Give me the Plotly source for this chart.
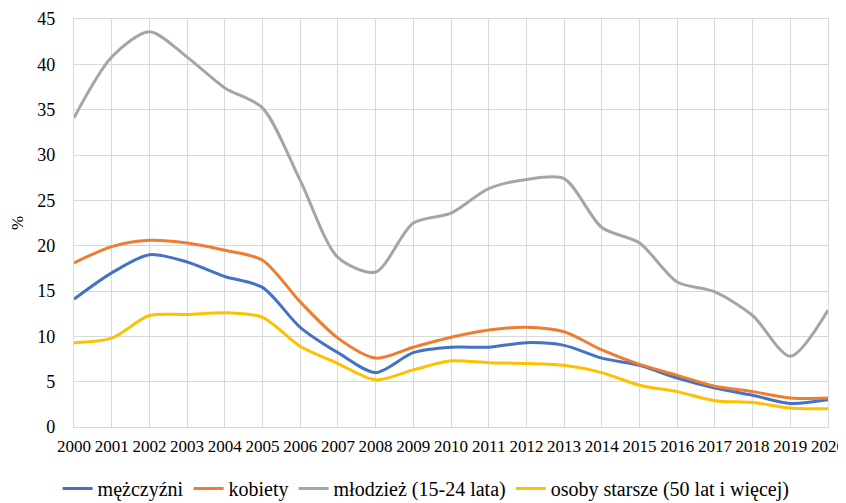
import plotly.graph_objects as go

years = list(range(2000, 2021))
mezczyzni = [14.1, 17.0, 19.0, 18.2, 16.6, 15.4, 11.0, 8.2, 6.0, 8.2, 8.8, 8.8, 9.3, 9.0, 7.6, 6.8, 5.4, 4.3, 3.5, 2.6, 3.0]
kobiety = [18.1, 19.9, 20.6, 20.3, 19.5, 18.4, 13.8, 9.8, 7.6, 8.8, 9.9, 10.7, 11.0, 10.5, 8.5, 6.9, 5.7, 4.5, 3.9, 3.2, 3.2]
mlodziez = [34.1, 40.8, 43.6, 40.8, 37.4, 35.2, 27.2, 18.7, 17.1, 22.5, 23.6, 26.3, 27.3, 27.4, 22.0, 20.3, 16.0, 14.9, 12.3, 7.8, 12.9]
starsi = [9.3, 9.8, 12.3, 12.4, 12.6, 12.1, 8.9, 7.0, 5.2, 6.3, 7.3, 7.1, 7.0, 6.8, 6.0, 4.6, 3.9, 2.9, 2.7, 2.1, 2.0]

series_names = ["mężczyźni", "kobiety", "młodzież (15-24 lata)", "osoby starsze (50 lat i więcej)"]
series_values = [mezczyzni, kobiety, mlodziez, starsi]
colors = ["#4472C4", "#ED7D31", "#A5A5A5", "#FFC000"]

fig = go.Figure()
for name, vals, c in zip(series_names, series_values, colors):
    fig.add_trace(go.Scatter(x=years, y=vals, name=name, mode="lines",
                             line=dict(color=c, width=3, shape="spline", smoothing=0.8)))

fam = "Liberation Serif"
font = dict(family=fam, size=17, color="#000000")
grid = "#d9d9d9"
fig.update_layout(
    width=846, height=503,
    margin=dict(l=66, r=26, t=11, b=84, autoexpand=False),
    paper_bgcolor="white", plot_bgcolor="white",
    font=font,
    showlegend=True,
    legend=dict(orientation="h", x=0.467, xanchor="center", y=-0.103, yanchor="top",
                font=dict(family=fam, size=20, color="#000000"),
                itemwidth=30, tracegroupgap=0),
    xaxis=dict(range=[2000, 2020], tickmode="array", tickvals=years,
               ticktext=[str(y) for y in years], tickangle=0,
               showgrid=True, gridcolor=grid, gridwidth=1.3,
               showline=True, linecolor=grid, linewidth=1.3, mirror=True,
               zeroline=False, ticks="", automargin=False, ticklabelstandoff=3,
               tickfont=dict(family=fam, size=17)),
    yaxis=dict(range=[0, 45], dtick=5, tick0=0,
               showgrid=True, gridcolor=grid, gridwidth=1.3,
               showline=True, linecolor=grid, linewidth=1.3, mirror=True,
               zeroline=False, ticks="", ticklabelstandoff=14, automargin=False,
               title=dict(text="%", standoff=10, font=dict(family=fam, size=17)),
               tickfont=dict(family=fam, size=18)),
)

fig.write_html("out.html")
